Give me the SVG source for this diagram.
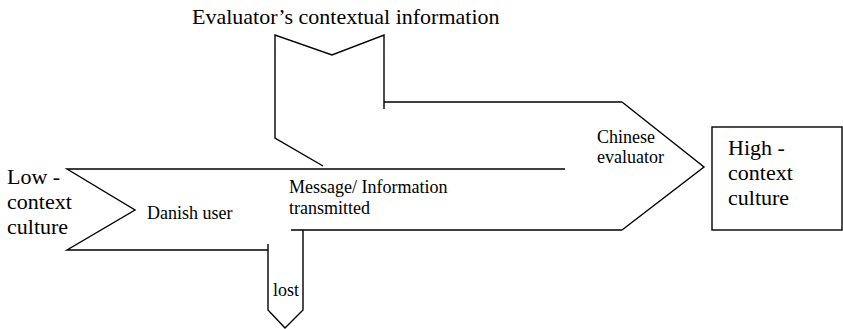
<svg xmlns="http://www.w3.org/2000/svg" width="843" height="329" viewBox="0 0 843 329">
<style>
.ln{fill:none;stroke:#000;stroke-width:1.4;stroke-linejoin:miter}
.big{font-family:'Liberation Serif','Times New Roman',serif;font-size:22px;fill:#000}
.sm{font-family:'Liberation Serif','Times New Roman',serif;font-size:18px;fill:#000}
</style>
<rect width="843" height="329" fill="#fff"/>
<g id="context-arrow">
<path class="ln" d="M323,166 L275,138 L275,35 L332,55 L384,35 L384,109 M384,102 L622,102"/>
<text class="big" x="192" y="24">Evaluator’s contextual information</text>
</g>
<g id="main-arrow">
<path class="ln" d="M565,169 L67,169 L135,210 L67,250 L268,250 M291,230 L622,230 M622,102 L704,167 L622,230"/>
<text class="big" x="7" y="184">Low -</text>
<text class="big" x="7" y="209">context</text>
<text class="big" x="7" y="234">culture</text>
<text class="sm" x="147" y="219">Danish user</text>
<text class="sm" x="289" y="193">Message/ Information</text>
<text class="sm" x="289" y="214">transmitted</text>
<text class="sm" x="597" y="143">Chinese</text>
<text class="sm" x="597" y="163">evaluator</text>
</g>
<g id="lost-arrow">
<path class="ln" d="M268,244 L268,310 L285,328 L303,310 L303,230"/>
<text class="sm" x="273" y="296">lost</text>
</g>
<g id="high-context-box">
<rect class="ln" x="712" y="127" width="130" height="103"/>
<text class="big" x="728" y="155">High -</text>
<text class="big" x="728" y="180">context</text>
<text class="big" x="728" y="205">culture</text>
</g>
<g id="connectors"></g>
</svg>
